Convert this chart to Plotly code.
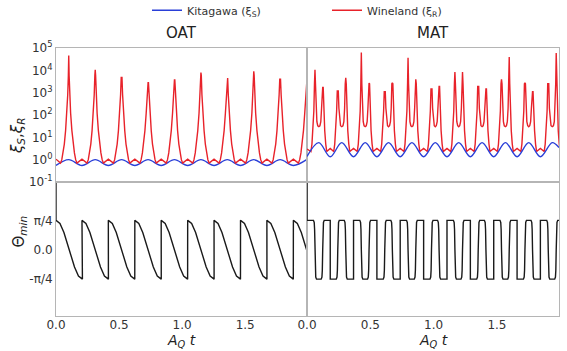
import plotly.graph_objects as go

# ---------------- data ----------------
# OAT panel (left)
oat_jump_t = [0.0, 0.206, 0.415, 0.625, 0.834, 1.044, 1.253, 1.463, 1.672, 1.882]
oat_period = 0.2095
oat_theta_f = [0.0, 0.15, 0.30, 0.50, 0.70, 0.85, 1.0]          # fraction of a period
oat_theta_v = [0.785, 0.70, 0.46, 0.0, -0.46, -0.70, -0.785]
oat_peak_t = [0.101, 0.311, 0.520, 0.730, 0.939, 1.149, 1.358, 1.568, 1.777, 1.987]
oat_peak_h = [4.6e4, 1.05e4, 4.8e3, 2.8e3, 3.7e3, 8.0e3, 4.5e3, 9.0e3, 4.0e3, 2.3e3]
oat_cusp_d = [0.003, 0.008, 0.015, 0.025, 0.035, 0.045, 0.055, 0.065]
oat_cusp_v = [6000, 800, 120, 20, 5.0, 2.0, 1.0, 0.7]
oat_red_bump = 1.05
oat_blue_max = 1.0
oat_blue_min = 0.55

# MAT panel (right): pairs of Wineland peaks
mat_t1 = [0.063, 0.243, 0.429, 0.614, 0.798, 0.983, 1.168, 1.352, 1.536, 1.721, 1.905]
mat_t2 = [0.124, 0.306, 0.490, 0.674, 0.859, 1.043, 1.228, 1.413, 1.597, 1.781, 1.968]
mat_h1 = [1.05e4, 1.2e3, 6.3e4, 1.1e3, 3.7e4, 1.45e3, 8.3e3, 1.9e3, 4.0e3, 2.8e3, 2.5e3]
mat_h2 = [1.7e3, 4.6e3, 2.7e3, 2.8e3, 4.0e3, 1.9e3, 8.5e3, 1.45e3, 3.9e4, 1.1e3, 5.9e4]
mat_in_d = [0.004, 0.009, 0.015, 0.022]
mat_in_v = [2500, 200, 50, 33]
mat_in_mid = 30
mat_out_d = [0.004, 0.009, 0.016, 0.024, 0.032]
mat_out_v = [2500, 150, 20, 5.0, 2.3]
mat_out_mid = 3.2
mat_red_start = 3.0
mat_blue_max = 5.8
mat_blue_min = 1.35
mat_blue_start = 1.4
# MAT theta: smooth crossings at the Wineland peaks, vertical jumps between pairs
mat_cross_d = [-0.012, -0.006, -0.003, 0.0, 0.003, 0.006, 0.012]
mat_cross_f = [1.0, 0.93, 0.70, 0.0, -0.70, -0.93, -1.0]
Q = 0.785

T_END = 1.99
THETA_TOP = 2.0

# ---------------- build polylines from the read values ----------------
def sort_pts(pts):
    pts = sorted(pts)
    return [p[0] for p in pts], [p[1] for p in pts]

mat_gap = [(b + a2) / 2 for b, a2 in zip(mat_t2[:-1], mat_t1[1:])]

# OAT theta
ox_th, oy_th = [0.0], [THETA_TOP]
for s in oat_jump_t:
    for f, v in zip(oat_theta_f, oat_theta_v):
        t = s + f * oat_period
        if t <= T_END + 0.01:
            ox_th.append(t); oy_th.append(v)

# OAT red
pts = []
for tp, h in zip(oat_peak_t, oat_peak_h):
    pts.append((tp, h))
    for d, v in zip(oat_cusp_d, oat_cusp_v):
        pts.append((tp - d, min(v, h)))
        pts.append((tp + d, min(v, h)))
for tj in oat_jump_t:
    pts.append((tj, oat_red_bump))
ox_r, oy_r = sort_pts(pts)

# OAT blue
pts = [(t, oat_blue_min) for t in oat_jump_t] + [(t, oat_blue_max) for t in oat_peak_t]
ox_b, oy_b = sort_pts(pts)

# MAT red
pts = [(0.0, mat_red_start)]
for k, (a, b, ha, hb) in enumerate(zip(mat_t1, mat_t2, mat_h1, mat_h2)):
    pts.append((a, ha)); pts.append((b, hb))
    for d, v in zip(mat_in_d, mat_in_v):
        pts.append((a + d, min(v, ha)))
        pts.append((b - d, min(v, hb)))
    pts.append(((a + b) / 2, mat_in_mid))
    for d, v in zip(mat_out_d, mat_out_v):
        pts.append((a - d, min(v, ha)))
        pts.append((b + d, min(v, hb)))
for g in mat_gap:
    pts.append((g, mat_out_mid))
mx_r, my_r = sort_pts(pts)

# MAT blue
pts = [(0.0, mat_blue_start)]
pts += [((a + b) / 2, mat_blue_max) for a, b in zip(mat_t1, mat_t2)]
pts += [(g, mat_blue_min) for g in mat_gap]
pts.append((T_END, 3.5))
mx_b, my_b = sort_pts(pts)

# MAT theta
mx_th, my_th = [0.0, 0.0], [THETA_TOP, Q]
events = sorted([(t, 's') for t in mat_t1 + mat_t2] + [(g, 'j') for g in mat_gap])
level = Q
for t, kind in events:
    if kind == 'j':
        mx_th += [t, t]
        my_th += [level, -level]
    else:
        for d, f in zip(mat_cross_d, mat_cross_f):
            mx_th.append(t + d); my_th.append(f * level)
    level = -level
mx_th.append(T_END); my_th.append(level)

# ---------------- figure ----------------
RED = '#e8222a'
BLUE = '#2a3fd8'
BLACK = '#1a1a1a'

fig = go.Figure()
def add(x, y, xa, ya, color, name=None, show=False, shape='linear'):
    fig.add_trace(go.Scatter(x=x, y=y, xaxis=xa, yaxis=ya, mode='lines',
                             line=dict(color=color, width=1.4, shape=shape),
                             name=name, showlegend=show, hoverinfo='skip'))

add(ox_b, oy_b, 'x3', 'y3', BLUE, 'Kitagawa (ξ<sub>S</sub>)', True, 'spline')
add(ox_r, oy_r, 'x3', 'y3', RED, 'Wineland (ξ<sub>R</sub>)', True)
add(mx_r, my_r, 'x4', 'y4', RED)
add(mx_b, my_b, 'x4', 'y4', BLUE, shape='spline')
add(ox_th, oy_th, 'x', 'y', BLACK)
add(mx_th, my_th, 'x2', 'y2', BLACK)

xL = [56 / 567, 307 / 567]
xR = [307 / 567, 559 / 567]
yT = [(351 - 182) / 351, (351 - 48) / 351]
yB = [(351 - 316) / 351, (351 - 182) / 351]

FONT = 'DejaVu Sans'
TICKF = dict(family=FONT, size=12, color='#333333')
base = dict(showline=True, linecolor='#b5b5b5', linewidth=1, mirror=True,
            showgrid=False, zeroline=False, ticks='', tickfont=TICKF, automargin=False)
xt = dict(tickvals=[0, 0.5, 1.0, 1.5], ticktext=['0.0', '0.5', '1.0', '1.5'],
          ticklabelstandoff=-2)

fig.update_layout(
    width=567, height=351,
    margin=dict(l=0, r=0, t=0, b=0, pad=0, autoexpand=False),
    paper_bgcolor='white', plot_bgcolor='white',
    font=dict(family=FONT, color='#333333'),
    xaxis=dict(base, domain=xL, range=[0, T_END], anchor='y', **xt),
    xaxis2=dict(base, domain=xR, range=[0, T_END], anchor='y2', **xt),
    xaxis3=dict(base, domain=xL, range=[0, T_END], anchor='y3', showticklabels=False),
    xaxis4=dict(base, domain=xR, range=[0, T_END], anchor='y4', showticklabels=False),
    yaxis=dict(base, domain=yB, range=[-1.77, 1.81], anchor='x',
               tickvals=[Q, 0.0, -Q], ticktext=['π/4', '0.0', '-π/4']),
    yaxis2=dict(base, domain=yB, range=[-1.77, 1.81], anchor='x2', showticklabels=False),
    yaxis3=dict(base, domain=yT, type='log', range=[-1, 5], anchor='x3',
                tickvals=[0.1, 1, 10, 100, 1e3, 1e4, 1e5],
                ticktext=['10<sup>-1</sup>', '10<sup>0</sup>', '10<sup>1</sup>', '10<sup>2</sup>',
                          '10<sup>3</sup>', '10<sup>4</sup>', '10<sup>5</sup>']),
    yaxis4=dict(base, domain=yT, type='log', range=[-1, 5], anchor='x4', showticklabels=False),
    legend=dict(orientation='h', x=147 / 567, y=1.012, xanchor='left', yanchor='top',
                entrywidth=135, entrywidthmode='pixels',
                font=dict(family=FONT, size=11, color='#333333'), bgcolor='rgba(0,0,0,0)'),
)

ann = [
    dict(text='OAT', x=181.5 / 567, y=(351 - 33) / 351, size=15),
    dict(text='MAT', x=433 / 567, y=(351 - 33) / 351, size=15),
    dict(text='<i>A</i><sub><i>Q</i></sub> <i>t</i>', x=181.5 / 567, y=(351 - 341) / 351, size=14),
    dict(text='<i>A</i><sub><i>Q</i></sub> <i>t</i>', x=433 / 567, y=(351 - 341) / 351, size=14),
]
for a in ann:
    fig.add_annotation(text=a['text'], x=a['x'], y=a['y'], xref='paper', yref='paper',
                       showarrow=False, xanchor='center', yanchor='middle',
                       font=dict(family=FONT, size=a['size'], color='#222222'))
fig.add_annotation(text='<i>ξ</i><sub><i>S</i></sub>,<i>ξ</i><sub><i>R</i></sub>',
                   x=6 / 567, y=(351 - 115) / 351, xref='paper', yref='paper', showarrow=False,
                   textangle=-90, font=dict(family=FONT, size=15, color='#222222'))
fig.add_annotation(text='Θ<sub><i>min</i></sub>',
                   x=7 / 567, y=(351 - 250) / 351, xref='paper', yref='paper', showarrow=False,
                   textangle=-90, font=dict(family=FONT, size=15, color='#222222'))

fig.write_html('out.html')
